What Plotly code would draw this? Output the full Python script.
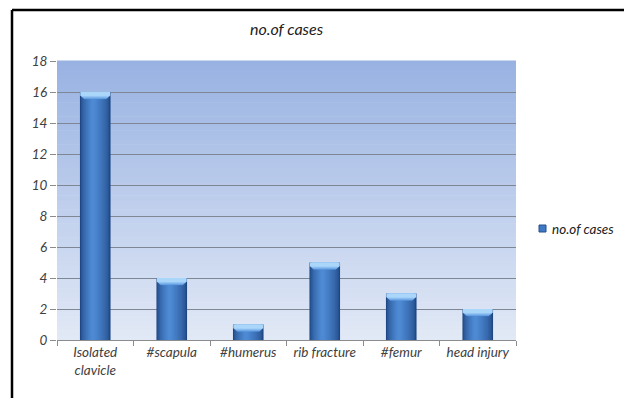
import plotly.graph_objects as go

# Chart data
categories = ["Isolated<br>clavicle", "#scapula", "#humerus", "rib fracture", "#femur", "head injury"]
cases = [16, 4, 1, 5, 3, 2]
series_name = "no.of cases"
y_ticks = [0, 2, 4, 6, 8, 10, 12, 14, 16, 18]

W, H = 624, 398
L, R, T, B = 57, 108, 61, 58

FONT = "Lato"
TEXT = "#404040"


def lerp(c1, c2, t):
    return "#%02x%02x%02x" % tuple(round(a + (b - a) * t) for a, b in zip(c1, c2))


fig = go.Figure()
n = len(cases)

# Cylinder-like shading: nested bars, each narrower and lighter than the last
bar_w = 0.4
n_layers = 14
edge = (30, 70, 130)
mid = (78, 138, 212)
for k in range(n_layers):
    t = k / (n_layers - 1)
    w = bar_w * (1 - 0.9 * t)
    shift = 0.03 * t          # highlight sits a little left of centre
    col = lerp(edge, mid, t ** 0.6)
    fig.add_trace(go.Bar(
        x=categories, y=cases,
        width=[w] * n, offset=[-w / 2 - shift] * n,
        marker=dict(color=col, line=dict(width=0)),
        showlegend=False, hoverinfo="skip",
    ))

# Bevelled top: wide light bands over narrower, deeper ones
cap_h = 0.46
cap_layers = 6
cap_dark = (95, 155, 225)
cap_light = (170, 214, 250)
for j in range(cap_layers):
    t = j / (cap_layers - 1)
    w = bar_w * (0.74 + 0.24 * t)
    h = cap_h * (1 - 0.45 * t)
    col = lerp(cap_dark, cap_light, t)
    fig.add_trace(go.Bar(
        x=categories, y=[h] * n,
        base=[v - h for v in cases],
        width=[w] * n, offset=[-w / 2] * n,
        marker=dict(color=col, line=dict(width=0)),
        showlegend=False, hoverinfo="skip",
    ))

# Vertical gradient for plot background
shapes = []
n_bands = 60
top_c = (152, 178, 226)
bot_c = (226, 233, 246)
for k in range(n_bands):
    shapes.append(dict(
        type="rect", xref="x domain", yref="y domain",
        x0=0, x1=1, y0=k / n_bands, y1=(k + 1) / n_bands + 0.002,
        fillcolor=lerp(bot_c, top_c, (k + 0.5) / n_bands),
        line=dict(width=0), layer="below",
    ))

pw = W - L - R
ph = H - T - B


def px_x(px):
    return (px - L) / pw


def px_y(py):
    return (H - B - py) / ph


# Chart frame: top and left edges
shapes.append(dict(type="line", xref="paper", yref="paper",
                   x0=px_x(12), x1=px_x(630), y0=px_y(10), y1=px_y(10),
                   line=dict(color="#000000", width=2.5)))
shapes.append(dict(type="line", xref="paper", yref="paper",
                   x0=px_x(12), x1=px_x(12), y0=px_y(10), y1=px_y(405),
                   line=dict(color="#000000", width=2.5)))

# Legend key
shapes.append(dict(type="rect", xref="paper", yref="paper",
                   x0=px_x(539), x1=px_x(546), y0=px_y(232), y1=px_y(225),
                   fillcolor="#3f78c4", line=dict(color="#24508c", width=1)))
annotations = [dict(
    text=series_name, xref="paper", yref="paper",
    x=px_x(550), y=px_y(228.5), xanchor="left", yanchor="middle",
    showarrow=False,
    font=dict(family=FONT, size=13.5, color="#202020", style="italic"),
)]

fig.update_layout(
    width=W, height=H,
    margin=dict(l=L, r=R, t=T, b=B, pad=0),
    paper_bgcolor="#ffffff",
    plot_bgcolor="rgba(0,0,0,0)",
    barmode="overlay",
    shapes=shapes,
    annotations=annotations,
    showlegend=False,
    title=dict(
        text=series_name, x=0.5, xref="paper", xanchor="center",
        y=1 - 29 / H, yref="container", yanchor="middle",
        font=dict(family=FONT, size=16, color="#202020", style="italic"),
    ),
    font=dict(family=FONT, size=13, color=TEXT, style="italic"),
    xaxis=dict(
        type="category", categoryorder="array", categoryarray=categories,
        showgrid=False, showline=True, linecolor="#8c8c8c", linewidth=1,
        ticks="outside", tickson="boundaries", ticklen=5, tickcolor="#8c8c8c",
        tickfont=dict(family=FONT, size=13.5, color=TEXT, style="italic"),
        fixedrange=True,
    ),
    yaxis=dict(
        range=[0, 18], tickvals=y_ticks,
        showgrid=True, gridcolor="#7f8794", gridwidth=1,
        showline=False, zeroline=False,
        ticks="outside", ticklen=6, tickcolor="#8c8c8c",
        tickfont=dict(family=FONT, size=13.5, color=TEXT, style="italic"),
        fixedrange=True,
    ),
)

fig.write_html("out.html")
